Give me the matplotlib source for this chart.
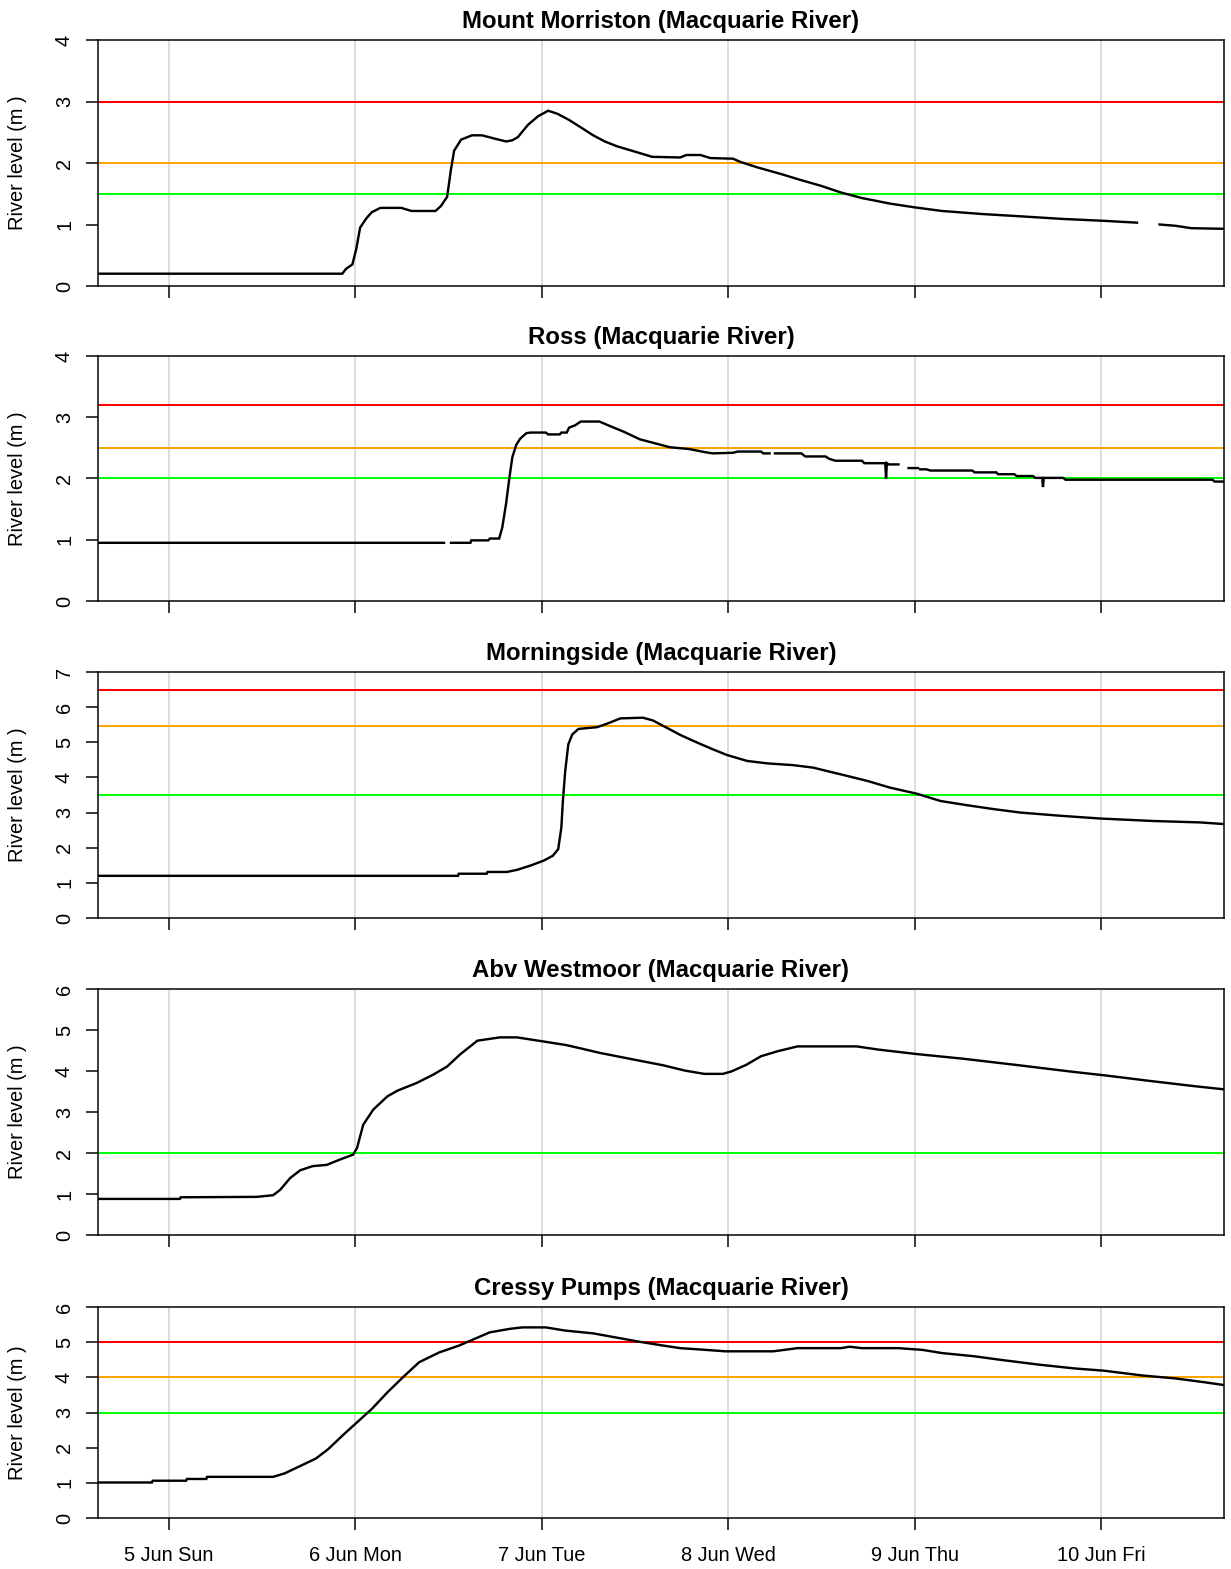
import numpy as np
import matplotlib
matplotlib.use("Agg")
import matplotlib.pyplot as plt

NaN = float("nan")

# ---- data: hours since 5 Jun 00:00, river level (m) ----
mm_hours = [-9.1, 22.3, 22.8, 23.6, 24.1, 24.6, 25.4, 26.1, 27.2, 29.9, 31.2, 34.3, 35.0, 35.8, 36.3,
            36.7, 37.6, 39.0, 40.3, 41.8, 43.4, 44.2, 44.9, 46.2, 47.5, 48.8, 50.0, 51.5, 53.0, 54.6,
            56.1, 57.7, 60.1, 62.2, 65.8, 66.6, 68.4, 69.7, 72.6, 73.5, 75.7, 78.8, 81.4, 83.9, 86.5,
            89.2, 92.8, 95.9, 99.5, 104.7, 110.0, 115.1, 120.3, 124.6, 126.0, 127.5, 129.5, 131.6, 135.8]
mm_level = [0.20, 0.20, 0.28, 0.35, 0.60, 0.95, 1.10, 1.20, 1.27, 1.27, 1.22, 1.22, 1.30, 1.45, 1.90,
            2.20, 2.38, 2.45, 2.45, 2.40, 2.35, 2.37, 2.42, 2.62, 2.76, 2.85, 2.80, 2.70, 2.58, 2.45,
            2.35, 2.27, 2.18, 2.10, 2.09, 2.13, 2.13, 2.08, 2.07, 2.02, 1.93, 1.82, 1.72, 1.63, 1.52,
            1.43, 1.34, 1.28, 1.22, 1.17, 1.13, 1.09, 1.06, 1.03, NaN, 1.00, 0.98, 0.94, 0.93]

ross_hours = [-9.1, 35.4, 35.9, 36.3, 38.8, 38.9, 41.1, 41.3, 42.5, 42.9, 43.4, 43.8, 44.2, 44.7, 45.2,
              46.0, 46.5, 48.5, 48.8, 50.3, 50.5, 51.2, 51.5, 52.3, 53.0, 55.4, 56.5, 58.6, 60.6, 62.7,
              64.5, 67.0, 69.0, 70.0, 72.6, 73.2, 76.2, 76.5, 77.3, 77.6, 78.0, 81.4, 81.9, 84.5, 85.0,
              85.8, 89.2, 89.5, 92.2, 92.3, 92.4, 92.6, 93.9, 94.5, 95.2, 96.4, 96.6, 96.7, 97.5, 98.0,
              103.4, 103.7, 106.5, 106.7, 108.8, 109.1, 111.2, 111.5, 112.4, 112.5, 112.6, 115.1, 115.4,
              134.3, 134.6, 136.0]
ross_level = [0.95, 0.95, NaN, 0.95, 0.95, 0.99, 0.99, 1.02, 1.02, 1.20, 1.60, 2.00, 2.35, 2.55, 2.65,
              2.74, 2.75, 2.75, 2.72, 2.72, 2.75, 2.75, 2.83, 2.87, 2.93, 2.93, 2.87, 2.76, 2.64, 2.57,
              2.51, 2.48, 2.43, 2.41, 2.42, 2.44, 2.44, 2.41, 2.41, NaN, 2.41, 2.41, 2.36, 2.36, 2.32,
              2.29, 2.29, 2.25, 2.25, 2.00, 2.25, 2.23, 2.23, NaN, 2.17, 2.17, NaN, 2.15, 2.15, 2.13,
              2.13, 2.10, 2.10, 2.07, 2.07, 2.04, 2.04, 2.01, 2.01, 1.86, 2.01, 2.01, 1.98,
              1.98, 1.95, 1.95]

mside_hours = [-9.1, 37.2, 37.3, 40.9, 41.0, 43.5, 44.8, 46.5, 48.2, 49.4, 50.1, 50.5, 50.7, 51.0, 51.4,
               51.9, 52.7, 55.1, 56.4, 58.1, 61.0, 62.3, 64.1, 65.8, 68.0, 70.0, 71.8, 74.4, 77.0, 80.3,
               82.9, 85.1, 86.8, 89.9, 92.8, 96.2, 99.3, 102.7, 106.1, 109.6, 114.7, 119.9, 126.7, 132.7,
               136.0]
mside_level = [1.20, 1.20, 1.26, 1.26, 1.31, 1.31, 1.37, 1.49, 1.63, 1.77, 1.96, 2.57, 3.33, 4.18, 4.94,
               5.22, 5.38, 5.43, 5.53, 5.68, 5.70, 5.62, 5.41, 5.21, 4.99, 4.80, 4.64, 4.47, 4.40, 4.35,
               4.28, 4.16, 4.07, 3.90, 3.71, 3.54, 3.33, 3.21, 3.10, 3.00, 2.91, 2.83, 2.76, 2.72,
               2.67]

westm_hours = [-9.1, 1.4, 1.5, 11.3, 13.4, 14.3, 15.6, 16.9, 18.5, 20.3, 22.0, 23.7, 24.2, 25.0, 26.3,
               28.1, 29.4, 31.9, 34.0, 35.8, 37.5, 39.7, 42.6, 44.8, 48.2, 51.2, 55.5, 60.6, 63.6, 66.4,
               68.9, 71.3, 72.4, 74.3, 76.2, 78.3, 80.9, 88.5, 91.4, 96.4, 102.2, 109.4, 115.9, 120.6,
               126.6, 132.0, 136.4]
westm_level = [0.88, 0.88, 0.92, 0.93, 0.97, 1.10, 1.39, 1.58, 1.68, 1.71, 1.84, 1.96, 2.12, 2.69, 3.06,
               3.38, 3.52, 3.71, 3.91, 4.11, 4.41, 4.74, 4.82, 4.82, 4.72, 4.63, 4.44, 4.25, 4.14, 4.01,
               3.93, 3.93, 3.99, 4.15, 4.36, 4.48, 4.60, 4.60, 4.52, 4.41, 4.30, 4.14, 3.99, 3.89,
               3.75, 3.63, 3.54]

cressy_hours = [-9.1, -2.2, -2.1, 2.2, 2.3, 4.8, 4.9, 13.4, 14.9, 16.9, 18.9, 20.5, 22.5, 24.1, 26.1,
                28.1, 30.1, 32.2, 34.8, 37.3, 39.3, 41.3, 43.9, 45.5, 48.5, 51.0, 54.6, 58.1, 60.6, 63.7,
                65.8, 68.5, 71.6, 77.8, 80.9, 86.5, 87.6, 89.2, 93.9, 97.0, 99.5, 103.6, 107.3, 112.0,
                116.7, 120.3, 125.4, 129.5, 133.3, 135.8]
cressy_level = [1.01, 1.01, 1.06, 1.06, 1.11, 1.11, 1.17, 1.17, 1.27, 1.48, 1.69, 1.96, 2.38, 2.70, 3.10,
                3.57, 4.00, 4.43, 4.71, 4.90, 5.09, 5.28, 5.38, 5.42, 5.42, 5.33, 5.25, 5.11, 5.01, 4.90,
                4.83, 4.79, 4.74, 4.74, 4.83, 4.83, 4.87, 4.83, 4.83, 4.78, 4.69, 4.60, 4.49, 4.36,
                4.25, 4.19, 4.05, 3.97, 3.86, 3.78]

titles = ["Mount Morriston (Macquarie River)", "Ross (Macquarie River)",
          "Morningside (Macquarie River)", "Abv Westmoor (Macquarie River)",
          "Cressy Pumps (Macquarie River)"]
y_max = [4, 4, 7, 6, 6]
red_levels = [3.0, 3.2, 6.5, None, 5.0]
orange_levels = [2.0, 2.5, 5.45, None, 4.0]
green_levels = [1.5, 2.0, 3.5, 2.0, 3.0]

tick_hours = [0, 24, 48, 72, 96, 120]
tick_labels = ["5 Jun Sun", "6 Jun Mon", "7 Jun Tue", "8 Jun Wed", "9 Jun Thu", "10 Jun Fri"]

series = [(mm_hours, mm_level), (ross_hours, ross_level), (mside_hours, mside_level),
          (westm_hours, westm_level), (cressy_hours, cressy_level)]

# ---- layout ----
W, H = 1231, 1569
plt.rcParams['font.family'] = ['Liberation Sans', 'DejaVu Sans']
fig = plt.figure(figsize=(W / 100, H / 100), dpi=100)

# (top px, bottom px) for each panel
rows = [(40, 286), (356, 601), (672, 918), (989, 1235), (1307, 1518)]
left_px, right_px = 98, 1224
xlim = (-9.14, 135.8)

px = 0.72  # points per pixel at dpi 100
for i, ((top, bot), (hx, lv)) in enumerate(zip(rows, series)):
    ax = fig.add_axes([left_px / W, 1 - bot / H, (right_px - left_px) / W, (bot - top) / H])
    ax.set_xlim(*xlim)
    ax.set_ylim(0, y_max[i])
    for t in tick_hours:
        ax.axvline(t, color="#d3d3d3", lw=1.5 * px, zorder=1)
    if red_levels[i] is not None:
        ax.axhline(red_levels[i], color="#ff0000", lw=2 * px, zorder=2)
    if orange_levels[i] is not None:
        ax.axhline(orange_levels[i], color="#ffa500", lw=2 * px, zorder=2)
    if green_levels[i] is not None:
        ax.axhline(green_levels[i], color="#00ff00", lw=2 * px, zorder=2)
    ax.plot(np.array(hx, dtype=float), np.array(lv, dtype=float), color="black",
            lw=2.4 * px, zorder=3, solid_joinstyle="miter")
    ax.set_xticks(tick_hours)
    if i == len(rows) - 1:
        ax.set_xticklabels(tick_labels)
    else:
        ax.set_xticklabels([])
    ax.set_yticks(range(0, y_max[i] + 1))
    ax.tick_params(axis="both", direction="out", length=12 * px, width=1.5 * px,
                   labelsize=20 * px, colors="black")
    ax.tick_params(axis="x", pad=16 * px)
    ax.tick_params(axis="y", labelrotation=90, pad=12 * px)
    for lab in ax.get_yticklabels():
        lab.set_va("center")
    for sp in ax.spines.values():
        sp.set_linewidth(1.5 * px)
        sp.set_color("black")
    ax.set_title(titles[i], fontsize=24 * px, fontweight="bold", pad=12 * px)
    fig.text(18 / W, 1 - ((top + bot) / 2) / H, "River level (m )", rotation=90,
             ha="center", va="center", fontsize=20 * px)

fig.savefig("out.png", dpi=100)
